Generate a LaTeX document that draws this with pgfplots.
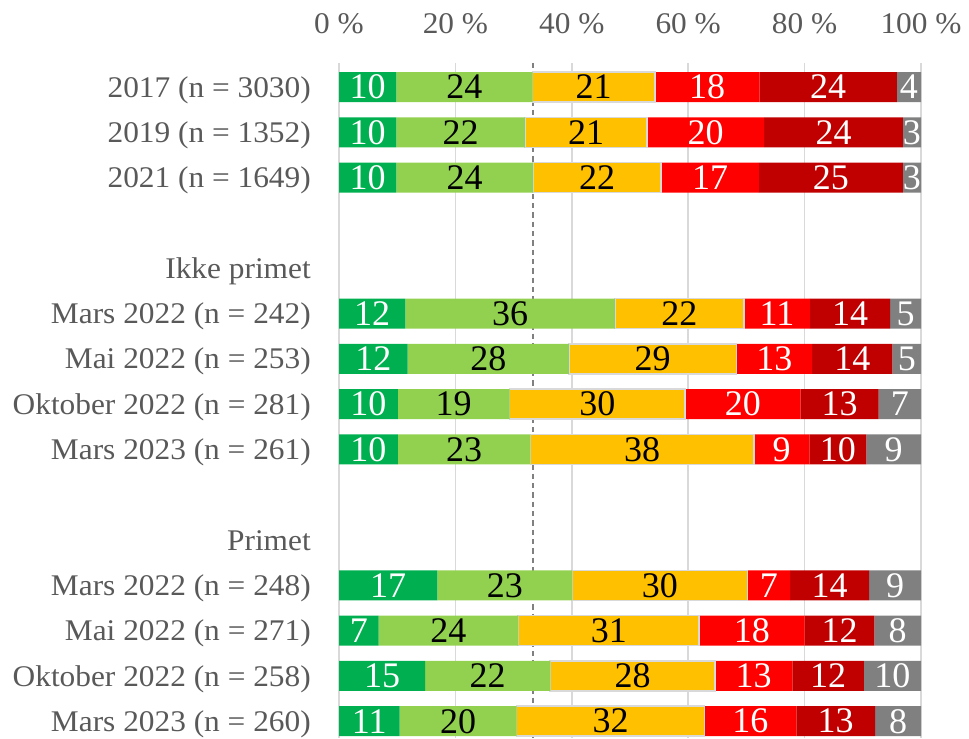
\documentclass[border=0pt]{standalone}
\usepackage{fontspec}
\setmainfont{Liberation Serif}
\newfontfamily\labfont[FakeStretch=1.045]{Liberation Serif}
\usepackage{pgfplots}
\usepackage{pgfplotstable}
\pgfplotsset{compat=1.18}
\definecolor{cG}{HTML}{00B050}
\definecolor{cLG}{HTML}{92D050}
\definecolor{cY}{HTML}{FFC000}
\definecolor{cR}{HTML}{FF0000}
\definecolor{cDR}{HTML}{C00000}
\definecolor{cGr}{HTML}{808080}
\definecolor{txt}{HTML}{595959}
\definecolor{gridc}{HTML}{D9D9D9}
\pgfplotstableread{
y  g     lg    ye    r     dr    gr    Lg Llg Lye Lr Ldr Lgr
0  9.85  23.4  21.0  18.0  23.6  4.15  10 24  21  18 24  4
1  9.85  22.1  21.0  20.1  23.85 3.1   10 22  21  20 24  3
2  9.85  23.5  22.0  16.8  24.75 3.1   10 24  22  17 25  3
5  11.4  36.0  22.2  11.3  13.8  5.3   12 36  22  11 14  5
6  11.8  27.7  28.8  13.0  13.8  4.9   12 28  29  13 14  5
7  10.1  19.2  30.2  19.8  13.4  7.3   10 19  30  20 13  7
8  10.1  22.8  38.4  9.5   9.8   9.4   10 23  38  9  10  9
11 16.9  23.2  30.1  7.3   13.6  8.9   17 23  30  7  14  9
12 6.8   24.0  31.1  18.1  12.0  8.0   7  24  31  18 12  8
13 14.8  21.5  28.3  13.3  12.3  9.8   15 22  28  13 12  10
14 10.4  20.1  32.3  15.8  13.5  7.9   11 20  32  16 13  8
}\data
\begin{document}
\begin{tikzpicture}
\useasboundingbox (0,0) rectangle (726.75pt,553.5pt);
\begin{axis}[
  at={(254.25pt,0pt)}, anchor=south west,
  scale only axis, width=436.5pt, height=506.25pt,
  xbar stacked, bar width=22.5pt,
  xmin=0, xmax=100, ymin=-0.53, ymax=14.37, y dir=reverse,
  enlargelimits=false,
  axis line style={draw=none},
  major tick length=0pt,
  xmajorgrids, grid style={gridc, line width=1.1pt},
  xtick={0,20,40,60,80,100},
  xticklabels={0 \%,20 \%,40 \%,60 \%,80 \%,100 \%},
  xticklabel pos=upper,
  xticklabel style={font=\labfont\fontsize{22.5}{27}\selectfont, text=txt, anchor=base, inner sep=0pt, yshift=22.3pt},
  ytick={0,...,14},
  yticklabels={2017 (n = 3030),2019 (n = 1352),2021 (n = 1649),{},Ikke primet,Mars 2022 (n = 242),Mai 2022 (n = 253),Oktober 2022 (n = 281),Mars 2023 (n = 261),{},Primet,Mars 2022 (n = 248),Mai 2022 (n = 271),Oktober 2022 (n = 258),Mars 2023 (n = 260)},
  yticklabel style={font=\labfont\fontsize{22.5}{27}\selectfont, text=txt, anchor=base east, inner sep=0pt, xshift=-21pt, yshift=-7.6pt},
  point meta=explicit symbolic,
  nodes near coords,
  every node near coord/.append style={font=\fontsize{27}{30}\selectfont, anchor=center, inner sep=0pt},
]
\addplot[fill=cG, draw=none, every node near coord/.append style={text=white}] table[x=g, y=y, meta=Lg] {\data};
\addplot[fill=cLG, draw=none, every node near coord/.append style={text=black}] table[x=lg, y=y, meta=Llg] {\data};
\addplot[fill=cY, draw=gridc, line width=1.2pt, every node near coord/.append style={text=black}] table[x=ye, y=y, meta=Lye] {\data};
\addplot[fill=cR, draw=none, every node near coord/.append style={text=white}] table[x=r, y=y, meta=Lr] {\data};
\addplot[fill=cDR, draw=none, every node near coord/.append style={text=white}] table[x=dr, y=y, meta=Ldr] {\data};
\addplot[fill=cGr, draw=none, every node near coord/.append style={text=white}] table[x=gr, y=y, meta=Lgr] {\data};
\draw[color=cGr, line width=1.1pt, dash pattern=on 4pt off 3pt] (axis cs:33.33,-0.53) -- (axis cs:33.33,14.37);
\end{axis}
\end{tikzpicture}
\end{document}
